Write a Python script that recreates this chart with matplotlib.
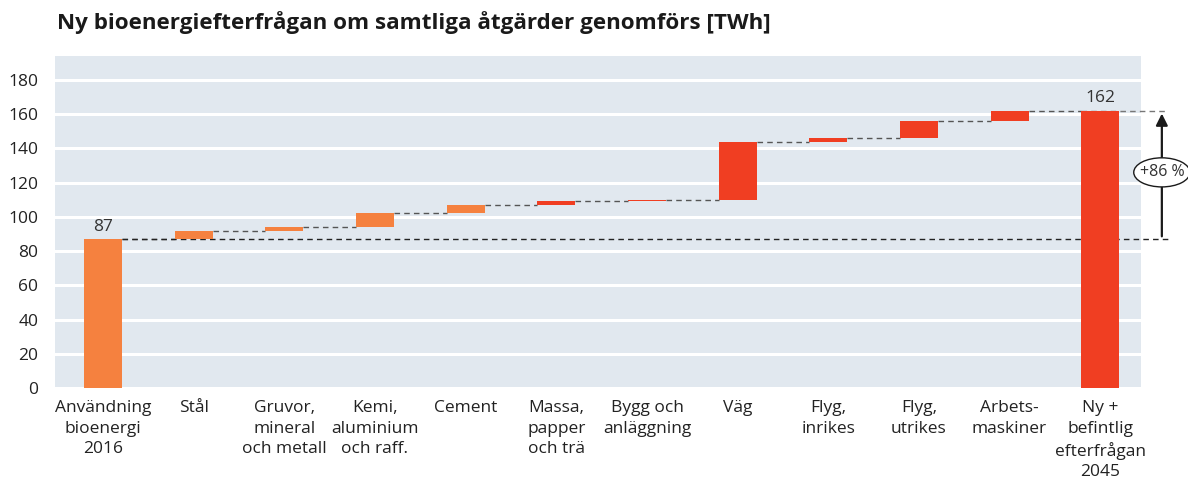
import matplotlib
matplotlib.use("Agg")
import matplotlib.pyplot as plt
from matplotlib.patches import Ellipse

categories = ["Användning\nbioenergi\n2016", "Stål", "Gruvor,\nmineral\noch metall",
              "Kemi,\naluminium\noch raff.", "Cement", "Massa,\npapper\noch trä",
              "Bygg och\nanläggning", "Väg", "Flyg,\ninrikes", "Flyg,\nutrikes",
              "Arbets-\nmaskiner", "Ny +\nbefintlig\nefterfrågan\n2045"]
start_value = 87
increments = [5, 2, 8, 4.7, 2.3, 0.6, 34, 2.4, 10, 6]
total_value = 162
change_label = "+86 %"
title = "Ny bioenergiefterfrågan om samtliga åtgärder genomförs [TWh]"
yticks = [0, 20, 40, 60, 80, 100, 120, 140, 160, 180]

ORANGE = "#F5813F"
RED = "#F03E22"
colors = [ORANGE] * 5 + [RED] * 7

plt.rcParams['font.family'] = ['Open Sans', 'DejaVu Sans']

fig = plt.figure(figsize=(11.88, 4.79), dpi=100)
ax = fig.add_axes([55/1188, 1 - 388/479, (1141-55)/1188, (388-56)/479])
ax.set_facecolor("#E1E8EF")
for s in ax.spines.values():
    s.set_visible(False)

n = len(categories)
bottoms = [0]
heights = [start_value]
level = start_value
for inc in increments:
    bottoms.append(level)
    heights.append(inc)
    level += inc
bottoms.append(0)
heights.append(total_value)

w = 0.42
xs = list(range(n))
ax.bar(xs, heights, bottom=bottoms, width=w, color=colors, zorder=3)

# connectors
tops = [b + h for b, h in zip(bottoms, heights)]
for i in range(n - 1):
    y = tops[i]
    ax.plot([i + w/2, i + 1 - w/2], [y, y], ls=(0, (4, 3)), color="#555555", lw=1.0, zorder=2)

# reference lines for start and total
ax.plot([w/2, 11.75], [start_value, start_value], ls=(0, (4, 3)), color="#222222", lw=1.0,
        zorder=2, clip_on=False)
ax.plot([n - 1 - w/2, 11.75], [total_value, total_value], ls=(0, (4, 3)), color="#777777", lw=1.0,
        zorder=2, clip_on=False)

# value labels
ax.text(0, start_value + 2.5, str(start_value), ha="center", va="bottom", fontsize=12.5, color="#333333")
ax.text(n - 1, total_value + 2.5, str(total_value), ha="center", va="bottom", fontsize=12.5, color="#333333")

# arrow
xa = 11.68
ax.annotate("", xy=(xa, total_value), xytext=(xa, start_value),
            arrowprops=dict(arrowstyle="-|>,head_width=0.35,head_length=0.7", color="#1a1a1a", lw=1.6),
            annotation_clip=False, zorder=5)
ell = Ellipse((xa, 126), width=0.62, height=17, facecolor="white", edgecolor="#1a1a1a",
              lw=1.0, zorder=6, clip_on=False)
ax.add_patch(ell)
ax.text(xa, 126, change_label, ha="center", va="center", fontsize=11.5, color="#333333",
        zorder=7, clip_on=False)

ax.set_xlim(-0.53, 11.45)
ax.set_ylim(0, 194)
ax.set_yticks(yticks)
ax.yaxis.grid(True, color="white", lw=2.2, zorder=1)
ax.set_axisbelow(True)
ax.set_xticks(xs)
ax.set_xticklabels(categories, fontsize=12.5, color="#222222", linespacing=1.35)
ax.tick_params(axis="both", length=0, labelsize=12.5, colors="#222222")
ax.tick_params(axis="x", pad=9)
ax.tick_params(axis="y", pad=12)

fig.text(57/1188, 1 - 23/479, title, fontsize=16.1, fontweight="bold", color="#1a1a1a",
         ha="left", va="center")

fig.savefig("out.png", dpi=100)
